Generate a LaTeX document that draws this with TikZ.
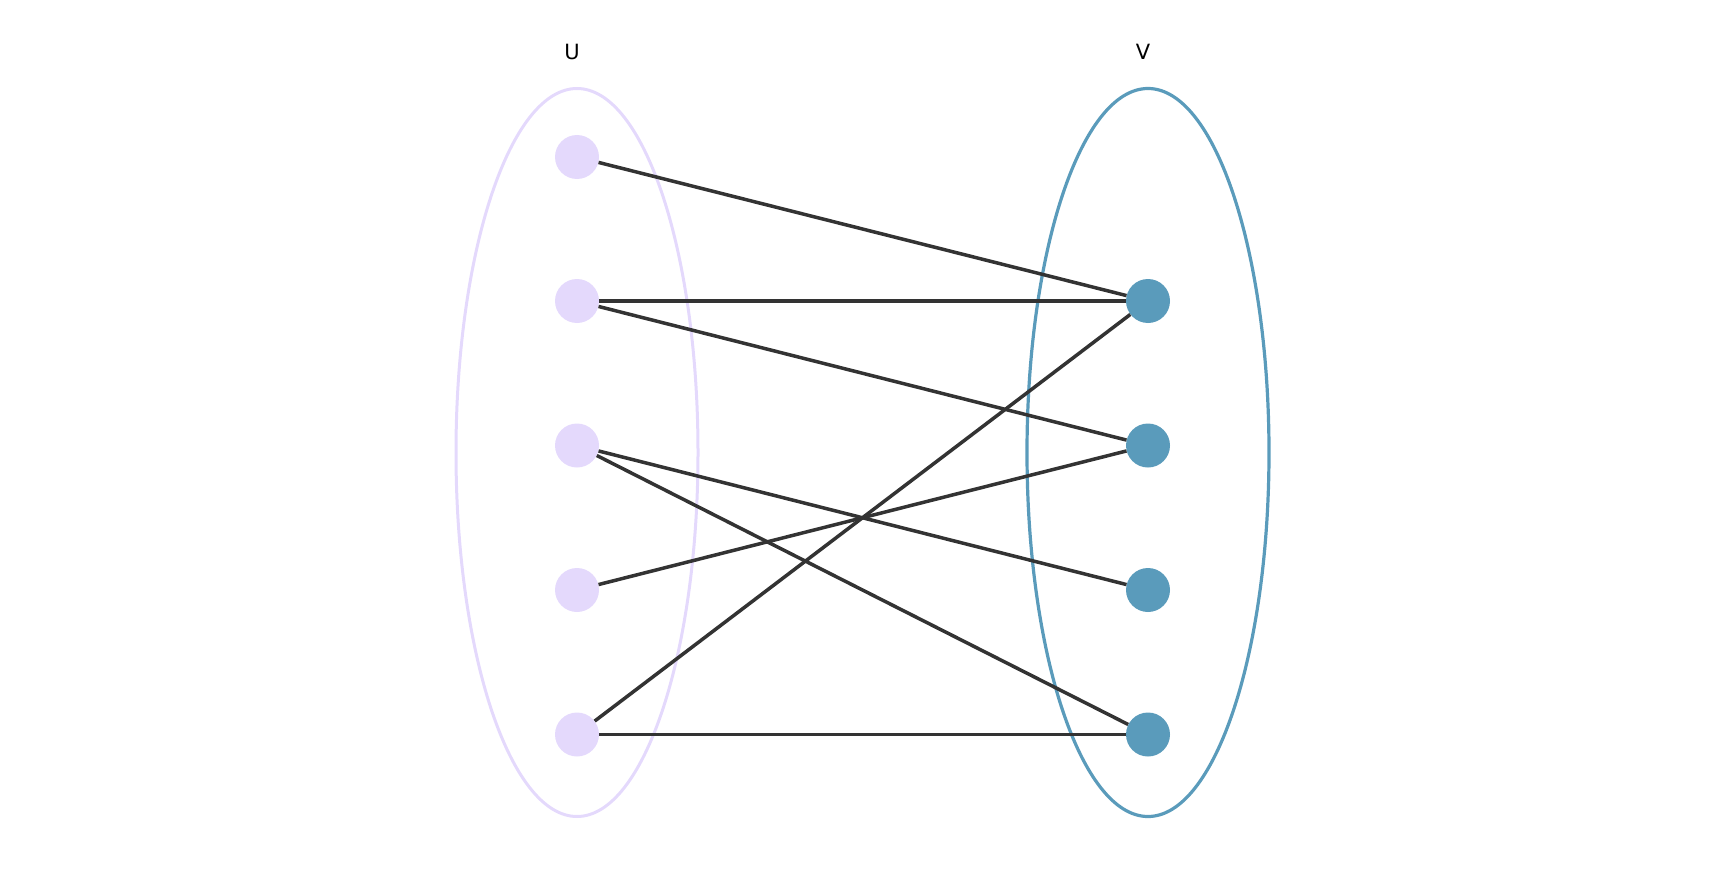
\documentclass[tikz,border=0pt]{standalone}
\usepackage{fontspec}
\setmainfont{DejaVu Sans}
\definecolor{lav}{HTML}{E4D9FC}
\definecolor{teal}{HTML}{5A9BBB}
\definecolor{edgec}{HTML}{333333}
\begin{document}
\begin{tikzpicture}[x=1pt,y=-1pt,
  unode/.style={circle,fill=lav,minimum size=44pt,inner sep=0pt},
  vnode/.style={circle,fill=teal,minimum size=44pt,inner sep=0pt},
  edge/.style={draw=edgec,line width=3.5pt},
  lbl/.style={font=\fontsize{21}{24}\selectfont,text=black}]
\useasboundingbox (0,0) rectangle (1724,880);
\draw[lav,line width=3pt] (577,452.5) ellipse [x radius=121,y radius=364];
\draw[teal,line width=3.2pt] (1148,452.5) ellipse [x radius=121,y radius=364];
\node[lbl] (lu) at (572,52) {U};
\node[lbl] (lv) at (1143,52) {V};
\node[unode] (u1) at (577,157) {};
\node[unode] (u2) at (577,301) {};
\node[unode] (u3) at (577,445.5) {};
\node[unode] (u4) at (577,590) {};
\node[unode] (u5) at (577,734.5) {};
\node[vnode] (v1) at (1148,301) {};
\node[vnode] (v2) at (1148,445.5) {};
\node[vnode] (v3) at (1148,590) {};
\node[vnode] (v4) at (1148,734.5) {};
\draw[edge] (u1) -- (v1);
\draw[edge] (u2) -- (v1);
\draw[edge] (u2) -- (v2);
\draw[edge] (u3) -- (v3);
\draw[edge] (u3) -- (v4);
\draw[edge] (u4) -- (v2);
\draw[edge] (u5) -- (v1);
\draw[edge] (u5) -- (v4);
\end{tikzpicture}
\end{document}
